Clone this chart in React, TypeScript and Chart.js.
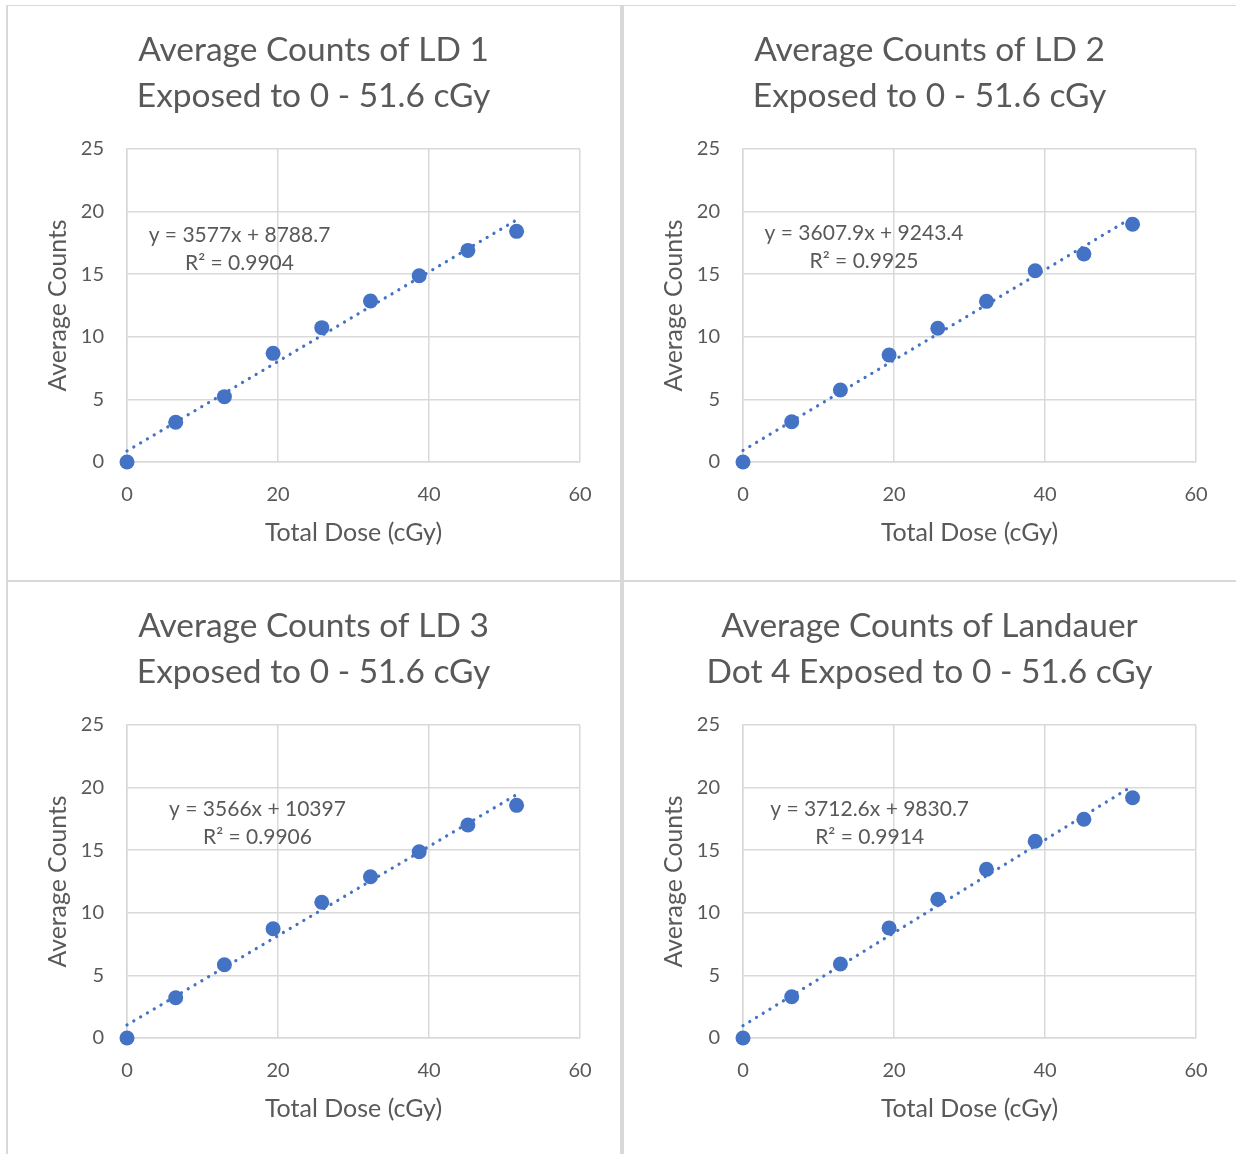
import React, { useEffect, useRef } from "react";
import { Chart, registerables } from "chart.js";

Chart.register(...registerables);

// ---- Data ----
const doses = [0, 6.45, 12.9, 19.35, 25.8, 32.25, 38.7, 45.15, 51.6];

const ld1Counts = [0, 3.17, 5.22, 8.68, 10.73, 12.86, 14.88, 16.9, 18.42];
const ld2Counts = [0, 3.22, 5.75, 8.55, 10.68, 12.83, 15.28, 16.61, 18.99];
const ld3Counts = [0, 3.22, 5.85, 8.73, 10.84, 12.88, 14.88, 17.01, 18.58];
const ld4Counts = [0, 3.3, 5.91, 8.79, 11.08, 13.47, 15.71, 17.47, 19.19];

const chartTitles = [
  ["Average Counts of LD 1", "Exposed to 0 - 51.6 cGy"],
  ["Average Counts of LD 2", "Exposed to 0 - 51.6 cGy"],
  ["Average Counts of LD 3", "Exposed to 0 - 51.6 cGy"],
  ["Average Counts of Landauer", "Dot 4 Exposed to 0 - 51.6 cGy"],
];

// trendline (in units of 10^4 counts): slope, intercept
const trendSlopes = [0.3577, 0.36079, 0.3566, 0.37126];
const trendIntercepts = [0.87887, 0.92434, 1.0397, 0.98307];
const equationTexts = [
  "y = 3577x + 8788.7",
  "y = 3607.9x + 9243.4",
  "y = 3566x + 10397",
  "y = 3712.6x + 9830.7",
];
const r2Texts = ["R² = 0.9904", "R² = 0.9925", "R² = 0.9906", "R² = 0.9914"];

const xTicksMax = 60;
const yTicksMax = 25;
const xAxisLabel = "Total Dose (cGy)";
const yAxisLabel = "Average Counts";

// label anchors (data coords of the first line's centre)
const labelAnchors = [
  { x: 14.9, y: 18.13 },
  { x: 16.03, y: 18.29 },
  { x: 17.28, y: 18.29 },
  { x: 16.77, y: 18.29 },
];

const seriesList = [ld1Counts, ld2Counts, ld3Counts, ld4Counts];

const FONT = "Lato, 'Open Sans', sans-serif";
const TEXT = "#595959";
const GRID = "#d9d9d9";
const BLUE = "#4472C4";

const CW = 613;
const CH = 574;

function Panel({ idx, left, top }: { idx: number; left: number; top: number }) {
  const ref = useRef<HTMLCanvasElement | null>(null);
  useEffect(() => {
    if (!ref.current) return;
    const values = seriesList[idx];
    const m = trendSlopes[idx];
    const b = trendIntercepts[idx];
    const xEnd = doses[doses.length - 1];
    const labelPlugin = {
      id: "trendLabel",
      afterDatasetsDraw(chart: any) {
        const ctx = chart.ctx;
        const xs = chart.scales.x;
        const ys = chart.scales.y;
        const a = labelAnchors[idx];
        const px = xs.getPixelForValue(a.x);
        const py = ys.getPixelForValue(a.y);
        ctx.save();
        ctx.font = `21px ${FONT}`;
        ctx.fillStyle = TEXT;
        ctx.textAlign = "center";
        ctx.textBaseline = "middle";
        ctx.fillText(equationTexts[idx], px, py);
        ctx.fillText(r2Texts[idx], px, py + 28);
        ctx.restore();
      },
    };
    const chart = new Chart(ref.current, {
      type: "scatter",
      data: {
        datasets: [
          {
            type: "line",
            data: [
              { x: 0, y: b },
              { x: xEnd, y: m * xEnd + b },
            ],
            borderColor: BLUE,
            borderWidth: 3.2,
            borderDash: [0.1, 7.8],
            borderCapStyle: "round",
            pointRadius: 0,
            fill: false,
            clip: false,
          } as any,
          {
            data: doses.map((d, i) => ({ x: d, y: values[i] })),
            pointRadius: 7.5,
            pointBackgroundColor: BLUE,
            pointBorderColor: BLUE,
            pointBorderWidth: 0,
            showLine: false,
            clip: false,
          } as any,
        ],
      },
      options: {
        animation: false,
        responsive: false,
        devicePixelRatio: 1,
        events: [],
        layout: { padding: 0 },
        plugins: {
          legend: { display: false },
          tooltip: { enabled: false },
          title: {
            display: true,
            text: chartTitles[idx],
            color: TEXT,
            font: { family: FONT, size: 33.5, weight: "normal", lineHeight: 1.37 },
            padding: { top: 21, bottom: 30.2 },
          },
        },
        scales: {
          x: {
            type: "linear",
            min: 0,
            max: xTicksMax,
            ticks: { stepSize: 20, padding: 21, color: TEXT, font: { family: FONT, size: 20 } },
            grid: { color: GRID, lineWidth: 1.5, drawTicks: false },
            border: { color: GRID, width: 1.5 },
            title: {
              display: true,
              text: xAxisLabel,
              color: TEXT,
              font: { family: FONT, size: 25, lineHeight: 1.2 },
              padding: { top: 0, bottom: 32 },
            },
            afterFit: (s: any) => {
              s.height = 118;
            },
          },
          y: {
            type: "linear",
            min: 0,
            max: yTicksMax,
            ticks: { stepSize: 5, padding: 23, color: TEXT, font: { family: FONT, size: 20 } },
            grid: { color: GRID, lineWidth: 1.5, drawTicks: false },
            border: { color: GRID, width: 1.5 },
            title: {
              display: true,
              text: yAxisLabel,
              color: TEXT,
              font: { family: FONT, size: 24.8, lineHeight: 1.2 },
              padding: { top: 36, bottom: 0 },
            },
            afterFit: (s: any) => {
              s.width = 120;
            },
          },
          yRight: {
            type: "linear",
            position: "right",
            display: true,
            min: 0,
            max: yTicksMax,
            ticks: { display: false },
            grid: { display: false, drawTicks: false },
            border: { display: false },
            afterFit: (s: any) => {
              s.width = 40;
            },
          },
        },
      } as any,
      plugins: [labelPlugin],
    });
    return () => chart.destroy();
  }, [idx]);
  return (
    <canvas
      ref={ref}
      width={CW}
      height={CH}
      style={{ position: "absolute", left, top, width: CW, height: CH }}
    />
  );
}

export default function App() {
  const line = (s: React.CSSProperties) => (
    <div style={{ position: "absolute", background: GRID, ...s }} />
  );
  return (
    <div
      style={{
        position: "absolute",
        left: 0,
        top: 0,
        width: 1236,
        height: 1154,
        overflow: "hidden",
        background: "#fff",
      }}
    >
      <Panel idx={0} left={7} top={6} />
      <Panel idx={1} left={623} top={6} />
      <Panel idx={2} left={7} top={582} />
      <Panel idx={3} left={623} top={582} />
      {line({ left: 6, top: 5, width: 1230, height: 1 })}
      {line({ left: 6, top: 5, width: 1.5, height: 1149 })}
      {line({ left: 620, top: 5, width: 4, height: 1149 })}
      {line({ left: 6, top: 580, width: 1230, height: 2 })}
    </div>
  );
}
